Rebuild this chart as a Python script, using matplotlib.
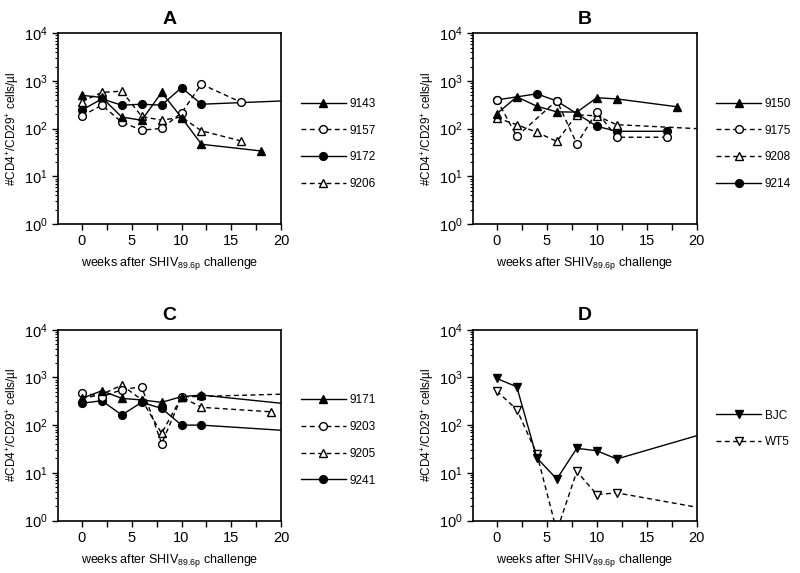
import numpy as np
import matplotlib
matplotlib.use('Agg')
from matplotlib import pyplot as plt
from matplotlib.ticker import LogLocator, MultipleLocator, NullFormatter

plt.rcParams['font.family'] = ['Liberation Sans', 'DejaVu Sans']
plt.rcParams['mathtext.fontset'] = 'custom'
plt.rcParams['mathtext.rm'] = 'Liberation Sans'
plt.rcParams['mathtext.it'] = 'Liberation Sans:italic'
plt.rcParams['mathtext.bf'] = 'Liberation Sans:bold'

# panel A
a_labels = ['9143', '9157', '9172', '9206']
a_weeks = [[0, 2, 4, 6, 8, 10, 12, 18],
           [0, 2, 4, 6, 8, 10, 12, 16],
           [0, 2, 4, 6, 8, 10, 12, 20],
           [0, 2, 4, 6, 8, 10, 12, 16]]
a_counts = [[500, 450, 175, 150, 575, 170, 47, 34],
            [185, 310, 137, 93, 101, 215, 855, 355],
            [245, 420, 310, 325, 310, 725, 325, 380],
            [370, 575, 610, 180, 150, 175, 90, 55]]

# panel B
b_labels = ['9150', '9175', '9208', '9214']
b_weeks = [[0, 2, 4, 6, 8, 10, 12, 18],
           [0, 2, 6, 8, 10, 12, 17],
           [0, 2, 4, 6, 8, 10, 12, 20],
           [0, 4, 6, 10, 12, 17]]
b_counts = [[205, 465, 295, 225, 222, 444, 420, 288],
            [406, 69, 388, 48, 225, 66, 66],
            [167, 121, 84, 54, 196, 185, 121, 100],
            [400, 537, 380, 112, 88, 88]]

# panel C
c_labels = ['9171', '9203', '9205', '9241']
c_weeks = [[0, 2, 4, 6, 8, 10, 12, 20],
           [0, 2, 4, 6, 8, 10, 12, 20],
           [0, 2, 4, 6, 8, 10, 12, 19],
           [0, 2, 4, 6, 8, 10, 12, 20]]
c_counts = [[363, 525, 363, 337, 300, 395, 427, 287],
            [480, 395, 550, 640, 41, 390, 400, 445],
            [360, 440, 690, 340, 67, 390, 236, 190],
            [287, 325, 163, 300, 224, 100, 100, 78]]

# panel D
d_labels = ['BJC', 'WT5']
d_weeks = [[0, 2, 4, 6, 8, 10, 12, 20],
           [0, 2, 4, 6, 8, 10, 12, 20]]
d_counts = [[950, 635, 20.6, 7.4, 32.6, 29, 19.5, 60],
            [515, 212, 25, 0.6, 10.7, 3.5, 3.8, 1.9]]

DASH = (0, (3.5, 2.5))
# (marker, filled, dashed)
styles_a = [('^', True, False), ('o', False, True), ('o', True, False), ('^', False, True)]
styles_bc = [('^', True, False), ('o', False, True), ('^', False, True), ('o', True, False)]
styles_d = [('v', True, False), ('v', False, True)]


def draw_panel(ax, title, weeks, counts, labels, styles, leg_y):
    n = len(labels)
    for k, (w, c, lab, (m, filled, dashed)) in enumerate(zip(weeks, counts, labels, styles)):
        # points sitting on the right border are line ends only
        mk = [i for i in range(len(w)) if w[i] < 20]
        ax.plot(w, c, color='black', lw=1.0,
                linestyle=DASH if dashed else '-',
                marker=m, markersize=6.2 if m != 'o' else 5.6,
                mfc='black' if filled else 'white', mec='black', mew=1.0,
                markevery=mk, label=lab, zorder=3 + n - k)
    ax.set_yscale('log')
    ax.set_ylim(1, 1e4)
    ax.set_xlim(-2.4, 20)
    ax.xaxis.set_major_locator(MultipleLocator(5))
    ax.xaxis.set_minor_locator(MultipleLocator(2.5))
    ax.yaxis.set_major_locator(LogLocator(base=10, numticks=10))
    ax.yaxis.set_minor_locator(LogLocator(base=10, subs=np.arange(2, 10), numticks=10))
    ax.yaxis.set_minor_formatter(NullFormatter())
    ax.tick_params(axis='both', which='major', direction='out', length=4, width=1,
                   labelsize=10.5)
    ax.tick_params(axis='x', which='minor', direction='out', length=4, width=1)
    ax.tick_params(axis='y', which='minor', direction='out', length=2, width=0.8)
    for s in ax.spines.values():
        s.set_linewidth(1.2)
    ax.set_title(title, fontsize=14, fontweight='bold', pad=7)
    ax.set_xlabel(r'weeks after SHIV$_{\rm 89.6p}$ challenge', fontsize=9, labelpad=5)
    ax.set_ylabel(r'#CD4$^{+}$/CD29$^{+}$ cells/µl', fontsize=8.5, labelpad=2)
    ax.legend(loc='center left', bbox_to_anchor=(1.04, leg_y), frameon=False,
              fontsize=8.5, handlelength=3.8, labelspacing=1.25, handletextpad=0.3)


fig = plt.figure(figsize=(8, 5.73), dpi=100)
axA = fig.add_axes([0.0725, 0.609, 0.279, 0.333])
axB = fig.add_axes([0.591, 0.609, 0.28, 0.333])
axC = fig.add_axes([0.0725, 0.0916, 0.279, 0.333])
axD = fig.add_axes([0.591, 0.0916, 0.28, 0.333])

draw_panel(axA, 'A', a_weeks, a_counts, a_labels, styles_a, 0.42)
draw_panel(axB, 'B', b_weeks, b_counts, b_labels, styles_bc, 0.42)
draw_panel(axC, 'C', c_weeks, c_counts, c_labels, styles_bc, 0.42)
draw_panel(axD, 'D', d_weeks, d_counts, d_labels, styles_d, 0.48)

fig.savefig('out.png', dpi=100)
